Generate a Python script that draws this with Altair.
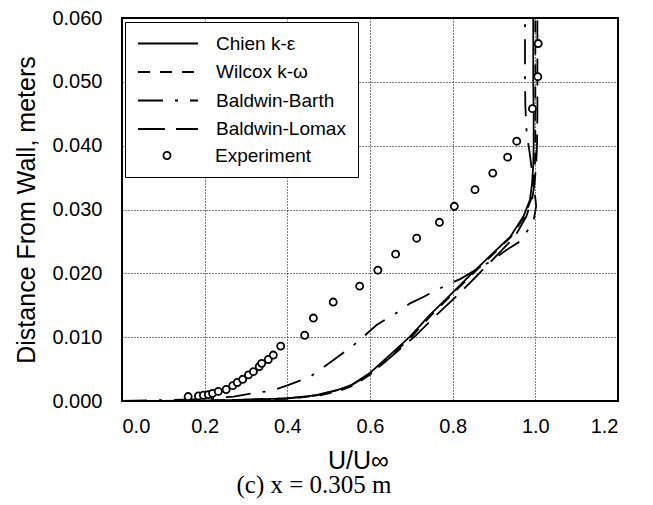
import altair as alt
import pandas as pd

line_names = ["Chien k-\u03b5", "Wilcox k-\u03c9", "Baldwin-Barth", "Baldwin-Lomax"]
exp_name = "Experiment"

y_common = [0.0, 0.00005, 0.0002, 0.0004, 0.0009, 0.0017, 0.0025, 0.0044, 0.0072, 0.0101,
            0.0135, 0.0166, 0.0197, 0.0227, 0.0257, 0.0289, 0.0315, 0.034, 0.037, 0.040,
            0.045, 0.050, 0.055, 0.060]
u_chien = [0.0, 0.20, 0.30, 0.40, 0.47, 0.52, 0.555, 0.60, 0.648, 0.697,
           0.745, 0.794, 0.842, 0.890, 0.939, 0.971, 0.987, 0.992, 0.995, 0.996,
           0.996, 0.995, 0.995, 0.995]
u_wilcox = [0.0, 0.21, 0.31, 0.41, 0.48, 0.53, 0.562, 0.606, 0.653, 0.701,
            0.749, 0.797, 0.845, 0.893, 0.941, 0.974, 0.989, 0.995, 0.999, 1.0,
            1.0, 1.0, 1.0, 1.0]
u_lomax = [0.0, 0.20, 0.30, 0.40, 0.47, 0.52, 0.556, 0.605, 0.656, 0.708,
           0.761, 0.812, 0.860, 0.905, 0.950, 0.978, 0.992, 0.998, 1.002, 1.004,
           1.005, 1.005, 1.005, 1.005]
y_barth = [0.0, 0.0003, 0.0007, 0.0013, 0.0016, 0.0025, 0.0038, 0.0051, 0.0064, 0.0085,
           0.0103, 0.0119, 0.0140, 0.0153, 0.0163, 0.0182, 0.0191, 0.0205, 0.0220, 0.0237,
           0.0250, 0.0280, 0.0305, 0.0330, 0.0360, 0.0390, 0.0420, 0.0460, 0.0500, 0.0550,
           0.0600]
u_barth = [0.0, 0.20, 0.27, 0.326, 0.362, 0.402, 0.455, 0.483, 0.511, 0.556,
           0.588, 0.616, 0.669, 0.697, 0.729, 0.786, 0.818, 0.855, 0.895, 0.931,
           0.963, 0.995, 1.002, 0.998, 0.992, 0.986, 0.979, 0.976, 0.975, 0.975,
           0.975]

u_exp = [0.160, 0.185, 0.197, 0.209, 0.219, 0.233, 0.252, 0.268, 0.279, 0.292,
         0.306, 0.318, 0.332, 0.338, 0.354, 0.366, 0.384, 0.442, 0.463, 0.511,
         0.575, 0.619, 0.662, 0.713, 0.768, 0.804, 0.854, 0.897, 0.933, 0.955,
         0.993, 1.006, 1.007]
y_exp = [0.0007, 0.0008, 0.0009, 0.0010, 0.0012, 0.0015, 0.0018, 0.0024, 0.0029, 0.0034,
         0.0041, 0.0046, 0.0054, 0.0059, 0.0065, 0.0072, 0.0086, 0.0103, 0.0130, 0.0155,
         0.0180, 0.0205, 0.0230, 0.0255, 0.0280, 0.0305, 0.0331, 0.0357, 0.0382, 0.0407,
         0.0458, 0.0508, 0.0560]

x_ticks = [0.0, 0.2, 0.4, 0.6, 0.8, 1.0, 1.2]
y_ticks = [0.0, 0.01, 0.02, 0.03, 0.04, 0.05, 0.06]

rows = []
for name, us, ys in [(line_names[0], u_chien, y_common),
                     (line_names[1], u_wilcox, y_common),
                     (line_names[2], u_barth, y_barth),
                     (line_names[3], u_lomax, y_common)]:
    for i, (u, y) in enumerate(zip(us, ys)):
        rows.append({"series": name, "u": u, "y": y, "idx": i})
lines_df = pd.DataFrame(rows)
exp_df = pd.DataFrame({"series": exp_name, "u": u_exp, "y": y_exp})

dash_range = [[1, 0], [12, 10], [25, 12, 3, 12], [27, 11]]

xenc = alt.X("u:Q", scale=alt.Scale(domain=[0, 1.2], nice=False, zero=False),
             axis=alt.Axis(values=x_ticks, format=".1f", title="U/U\u221e", titleX=236))
yenc = alt.Y("y:Q", scale=alt.Scale(domain=[0, 0.06], nice=False, zero=False),
             axis=alt.Axis(values=y_ticks, format=".3f", title="Distance From Wall, meters"))

lines = alt.Chart(lines_df).mark_line(color="black", strokeWidth=1.8).encode(
    x=xenc, y=yenc,
    strokeDash=alt.StrokeDash(
        "series:N", scale=alt.Scale(domain=line_names, range=dash_range),
        legend=alt.Legend(title="\u00a0", titleOrient="bottom", titleFontSize=19,
                          titlePadding=7, orient="none", legendX=3, legendY=4,
                          fillColor="white", strokeColor="black", padding=12,
                          symbolSize=3600, symbolType="stroke", clipHeight=19,
                          rowPadding=8.5, labelOffset=17)),
    order=alt.Order("idx:Q"))

points = alt.Chart(exp_df).mark_point(shape="circle", filled=False, fill="white",
                                      color="black", strokeWidth=1.8, size=50,
                                      opacity=1).encode(x=xenc, y=yenc)

# legend entry for the experimental points (no marks drawn by this layer)
exp_key = alt.Chart(exp_df).transform_filter("false").mark_line(strokeWidth=1.8).encode(
    x=xenc, y=yenc,
    color=alt.Color(
        "series:N", scale=alt.Scale(domain=[exp_name], range=["black"]),
        legend=alt.Legend(title=None, orient="none", legendX=35.5, legendY=128,
                          fillColor="transparent", strokeColor="transparent", padding=0,
                          symbolSize=50, symbolType="circle", labelOffset=38.5,
                          symbolFillColor="white", symbolStrokeColor="black")))

chart = alt.layer(lines, points, exp_key).properties(
    width=496, height=383,
    autosize=alt.AutoSizeParams(type="none"),
    padding={"left": 114, "top": 10, "right": 27, "bottom": 104},
    title=alt.TitleParams("(c) x = 0.305 m", orient="bottom", font="Liberation Serif",
                          fontSize=25, fontWeight="normal", color="black",
                          anchor="middle", dx=-56, offset=0),
).configure_view(
    stroke="black", strokeWidth=2
).configure_axis(
    grid=True, gridColor="black", gridDash=[1, 2], gridWidth=1, gridOpacity=1,
    domain=False, ticks=False, labelFont="Liberation Sans", labelFontSize=20,
    labelColor="black", titleFont="Liberation Sans", titleFontSize=25,
    titleFontWeight="normal", titleColor="black"
).configure_axisX(labelPadding=15, titlePadding=12).configure_axisY(
    labelPadding=20, titlePadding=12
).configure_legend(
    labelFont="Liberation Sans", labelFontSize=19, labelColor="black",
    titleFont="Liberation Sans", titleColor="black", titleFontWeight="normal",
    symbolStrokeWidth=1.8, symbolStrokeColor="black", labelLimit=300
)

chart.save("out.html", embed_options={"renderer": "svg", "actions": False})
